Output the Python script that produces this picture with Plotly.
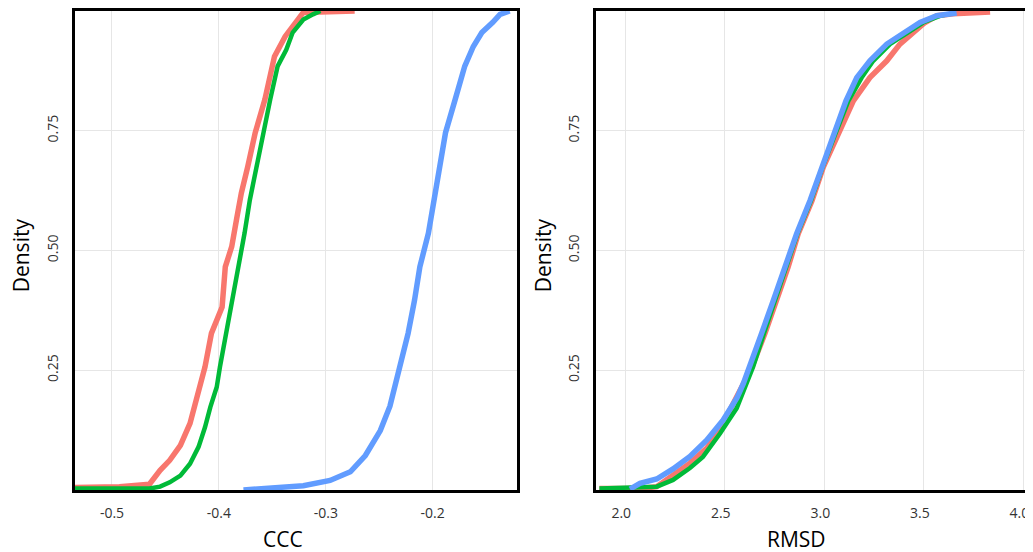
import plotly.graph_objects as go

# ECDF curves
ccc_red_x = [-0.535, -0.493, -0.465, -0.455, -0.446, -0.436, -0.427, -0.421, -0.413, -0.407, -0.397, -0.394,
             -0.388, -0.383, -0.379, -0.373, -0.366, -0.357, -0.355, -0.348, -0.338, -0.329, -0.321, -0.273]
ccc_red_y = [0.005, 0.007, 0.012, 0.041, 0.062, 0.093, 0.139, 0.187, 0.257, 0.327, 0.382, 0.466,
             0.508, 0.571, 0.620, 0.675, 0.746, 0.815, 0.836, 0.905, 0.947, 0.976, 0.997, 1.0]

ccc_green_x = [-0.535, -0.465, -0.455, -0.446, -0.436, -0.427, -0.419, -0.413, -0.408, -0.402, -0.399, -0.393,
               -0.387, -0.382, -0.376, -0.371, -0.365, -0.359, -0.352, -0.345, -0.337, -0.331, -0.321, -0.312, -0.305]
ccc_green_y = [0.003, 0.003, 0.007, 0.016, 0.030, 0.055, 0.090, 0.131, 0.173, 0.215, 0.257, 0.327,
               0.396, 0.466, 0.536, 0.606, 0.675, 0.746, 0.815, 0.885, 0.919, 0.955, 0.982, 0.993, 1.0]

ccc_blue_x = [-0.377, -0.352, -0.321, -0.296, -0.277, -0.263, -0.249, -0.240, -0.231, -0.223, -0.217, -0.212,
              -0.204, -0.199, -0.193, -0.188, -0.179, -0.170, -0.162, -0.154, -0.144, -0.137, -0.128]
ccc_blue_y = [0.0, 0.003, 0.009, 0.020, 0.038, 0.072, 0.124, 0.175, 0.250, 0.327, 0.396, 0.466,
              0.536, 0.606, 0.675, 0.746, 0.815, 0.885, 0.926, 0.955, 0.976, 0.993, 1.0]

rmsd_red_x = [1.87, 2.074, 2.158, 2.240, 2.325, 2.409, 2.476, 2.526, 2.576, 2.637, 2.702, 2.761, 2.818,
              2.869, 2.938, 2.995, 3.069, 3.146, 3.229, 3.314, 3.380, 3.446, 3.506, 3.565, 3.647, 3.833]
rmsd_red_y = [0.003, 0.003, 0.007, 0.031, 0.056, 0.087, 0.125, 0.167, 0.208, 0.257, 0.327, 0.396, 0.465,
              0.535, 0.604, 0.674, 0.744, 0.8125, 0.861, 0.896, 0.931, 0.955, 0.976, 0.990, 0.994, 0.998]

rmsd_green_x = [1.87, 2.0, 2.158, 2.240, 2.325, 2.390, 2.476, 2.560, 2.610, 2.642, 2.697, 2.752, 2.810,
                2.865, 2.933, 2.991, 3.056, 3.121, 3.188, 3.246, 3.330, 3.414, 3.497, 3.581, 3.647]
rmsd_green_y = [0.003, 0.004, 0.007, 0.021, 0.046, 0.069, 0.118, 0.171, 0.220, 0.257, 0.327, 0.396, 0.465,
                0.535, 0.604, 0.674, 0.744, 0.8125, 0.861, 0.896, 0.931, 0.955, 0.976, 0.990, 0.995]

rmsd_blue_x = [2.024, 2.074, 2.158, 2.240, 2.325, 2.409, 2.492, 2.561, 2.593, 2.626, 2.685, 2.744, 2.803,
               2.861, 2.928, 2.987, 3.044, 3.109, 3.163, 3.229, 3.314, 3.397, 3.481, 3.565, 3.665]
rmsd_blue_y = [0.002, 0.014, 0.023, 0.044, 0.070, 0.104, 0.146, 0.192, 0.222, 0.257, 0.327, 0.396, 0.465,
               0.535, 0.604, 0.674, 0.744, 0.8125, 0.861, 0.896, 0.931, 0.955, 0.976, 0.990, 0.996]

ccc_ticks = [-0.5, -0.4, -0.3, -0.2]
rmsd_ticks = [2.0, 2.5, 3.0, 3.5, 4.0]
density_ticks = [0.25, 0.50, 0.75]

RED = '#F8766D'
GREEN = '#00BA38'
BLUE = '#619CFF'
FONT = 'Open Sans'
W = 1040  # a bit wider than the window: the right panel runs past the edge like in the original

fig = go.Figure()

# left panel: CCC
fig.add_trace(go.Scatter(x=ccc_red_x, y=ccc_red_y, mode='lines', line=dict(color=RED, width=5.5),
                         xaxis='x', yaxis='y'))
fig.add_trace(go.Scatter(x=ccc_green_x, y=ccc_green_y, mode='lines', line=dict(color=GREEN, width=4.5),
                         xaxis='x', yaxis='y'))
fig.add_trace(go.Scatter(x=ccc_blue_x, y=ccc_blue_y, mode='lines', line=dict(color=BLUE, width=5.5),
                         xaxis='x', yaxis='y'))

# right panel: RMSD
fig.add_trace(go.Scatter(x=rmsd_red_x, y=rmsd_red_y, mode='lines', line=dict(color=RED, width=5.5),
                         xaxis='x2', yaxis='y2'))
fig.add_trace(go.Scatter(x=rmsd_green_x, y=rmsd_green_y, mode='lines', line=dict(color=GREEN, width=4.5),
                         xaxis='x2', yaxis='y2'))
fig.add_trace(go.Scatter(x=rmsd_blue_x, y=rmsd_blue_y, mode='lines', line=dict(color=BLUE, width=5.5),
                         xaxis='x2', yaxis='y2'))

axis_common = dict(showgrid=True, gridcolor='#e6e6e6', gridwidth=1, zeroline=False,
                   showline=True, linecolor='black', linewidth=3, ticks='',
                   tickfont=dict(family=FONT, size=14, color='#333333'))

# the page body adds an 8px offset, so the figure is drawn shifted
fig.update_layout(
    width=W, height=544,
    margin=dict(l=0, r=0, t=3, b=62),
    paper_bgcolor='white',
    plot_bgcolor='white',
    showlegend=False,
    xaxis=dict(domain=[67 / W, 508.5 / W], range=[-0.5346, -0.1216], tickvals=ccc_ticks,
               ticktext=[f'{v:.1f}' for v in ccc_ticks], mirror=True, anchor='y',
               ticklabelstandoff=8, **axis_common),
    yaxis=dict(domain=[0, 1], range=[0, 1.0], tickvals=density_ticks,
               ticktext=[f'{v:.2f}' for v in density_ticks], tickangle=-90, mirror=True, anchor='x',
               ticklabelstandoff=8, **axis_common),
    # labels sit a little left of their gridlines in the original
    xaxis2=dict(domain=[588 / W, 1.0], range=[1.853, 4.124], tickvals=rmsd_ticks,
                ticktext=[f'{v:.1f}' for v in rmsd_ticks], mirror=True, anchor='y2',
                ticklabelstandoff=8, ticklabelshift=-4, **axis_common),
    yaxis2=dict(domain=[0, 1], range=[0, 1.0], tickvals=density_ticks,
                ticktext=[f'{v:.2f}' for v in density_ticks], tickangle=-90, mirror=False, anchor='x2',
                ticklabelstandoff=8, **axis_common),
)

title_font = dict(family=FONT, size=21, color='black')
fig.add_annotation(text='CCC', x=275 / W, y=-0.102, xref='paper', yref='paper',
                   showarrow=False, font=title_font, xanchor='center', yanchor='middle')
fig.add_annotation(text='RMSD', x=788 / W, y=-0.102, xref='paper', yref='paper',
                   showarrow=False, font=title_font, xanchor='center', yanchor='middle')
fig.add_annotation(text='Density', x=13 / W, y=0.49, xref='paper', yref='paper', textangle=-90,
                   showarrow=False, font=title_font, xanchor='center', yanchor='middle')
fig.add_annotation(text='Density', x=535 / W, y=0.49, xref='paper', yref='paper', textangle=-90,
                   showarrow=False, font=title_font, xanchor='center', yanchor='middle')

fig.write_html("out.html")
